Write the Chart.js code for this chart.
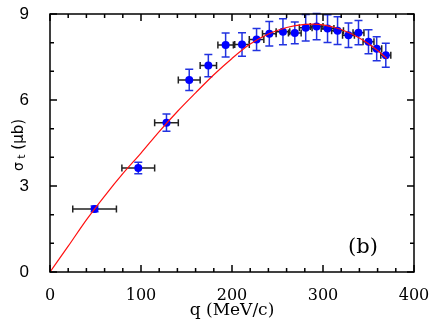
<!DOCTYPE html>
<html>
<head>
<meta charset="utf-8">
<script src="https://cdn.jsdelivr.net/npm/chart.js@4/dist/chart.umd.min.js"></script>
<style>
  body { margin: 0; background: #fff; }
  #wrap { width: 436px; height: 327px; }
</style>
</head>
<body>
<div id="wrap"><canvas id="grafico"></canvas></div>
<script>
// pontos medidos
const qVals = [49, 97, 128, 153, 174, 193, 211, 227, 241, 256, 269, 281, 293, 305, 316, 328, 339, 350, 359, 369];
const sigmaVals = [2.2, 3.63, 5.21, 6.70, 7.20, 7.92, 7.94, 8.11, 8.31, 8.38, 8.34, 8.52, 8.56, 8.49, 8.42, 8.26, 8.35, 8.03, 7.79, 7.56];
const qErr = [24, 18, 13, 12, 9, 8.5, 8, 8, 7.5, 7.5, 7, 7, 7, 7, 6.5, 6.5, 6, 6, 5.5, 5.5];
const sigmaErr = [0.1, 0.2, 0.3, 0.37, 0.39, 0.42, 0.41, 0.38, 0.43, 0.45, 0.38, 0.46, 0.46, 0.48, 0.48, 0.43, 0.42, 0.42, 0.42, 0.42];

// curva teorica (vermelha)
const fitQ = [0, 20, 40, 60, 80, 100, 120, 140, 160, 180, 200, 220, 240, 260, 280, 290, 300, 320, 340, 360, 370];
const fitSigma = [0, 0.9, 1.82, 2.65, 3.43, 4.15, 4.9, 5.6, 6.25, 6.88, 7.45, 7.95, 8.3, 8.53, 8.64, 8.65, 8.62, 8.46, 8.16, 7.73, 7.45];

// eixos
const xTicks = [0, 100, 200, 300, 400];
const yTicks = [0, 3, 6, 9];
const panelLabel = '(b)';

// barras de erro, desenhadas antes dos pontos
const errorBars = {
  id: 'errorBars',
  beforeDatasetsDraw(chart) {
    const { ctx, scales: { x, y } } = chart;
    ctx.save();
    ctx.lineWidth = 1.5;
    qVals.forEach((q, i) => {
      const px = x.getPixelForValue(q);
      const py = y.getPixelForValue(sigmaVals[i]);
      const x0 = x.getPixelForValue(q - qErr[i]);
      const x1 = x.getPixelForValue(q + qErr[i]);
      ctx.strokeStyle = '#222';
      ctx.beginPath();
      ctx.moveTo(x0, py); ctx.lineTo(x1, py);
      ctx.moveTo(x0, py - 3.5); ctx.lineTo(x0, py + 3.5);
      ctx.moveTo(x1, py - 3.5); ctx.lineTo(x1, py + 3.5);
      ctx.stroke();
      const y0 = y.getPixelForValue(sigmaVals[i] - sigmaErr[i]);
      const y1 = y.getPixelForValue(sigmaVals[i] + sigmaErr[i]);
      ctx.strokeStyle = '#2233e0';
      ctx.beginPath();
      ctx.moveTo(px, y0); ctx.lineTo(px, y1);
      ctx.moveTo(px - 4, y0); ctx.lineTo(px + 4, y0);
      ctx.moveTo(px - 4, y1); ctx.lineTo(px + 4, y1);
      ctx.stroke();
    });
    ctx.restore();
  }
};

// moldura com marcas para dentro e textos extras
const frame = {
  id: 'frame',
  afterDraw(chart) {
    const { ctx, chartArea: a, scales: { x, y } } = chart;
    ctx.save();
    ctx.strokeStyle = '#000';
    ctx.lineWidth = 1.5;
    ctx.strokeRect(a.left, a.top, a.right - a.left, a.bottom - a.top);
    ctx.beginPath();
    for (let v = 0; v <= 400; v += 20) {
      const px = x.getPixelForValue(v);
      const len = v % 100 === 0 ? 7 : 4;
      ctx.moveTo(px, a.bottom); ctx.lineTo(px, a.bottom - len);
      ctx.moveTo(px, a.top); ctx.lineTo(px, a.top + len);
    }
    for (let v = 0; v <= 9; v += 1) {
      const py = y.getPixelForValue(v);
      const len = v % 3 === 0 ? 7 : 4;
      ctx.moveTo(a.left, py); ctx.lineTo(a.left + len, py);
      ctx.moveTo(a.right, py); ctx.lineTo(a.right - len, py);
    }
    ctx.stroke();

    // rotulo do painel
    ctx.fillStyle = '#000';
    ctx.font = '21px "DejaVu Serif"';
    ctx.textAlign = 'center';
    ctx.textBaseline = 'middle';
    ctx.fillText(panelLabel, 363, 248);

    // titulo do eixo y: sigma_t (mu b)
    ctx.translate(23, 145);
    ctx.rotate(-Math.PI / 2);
    ctx.textAlign = 'left';
    ctx.textBaseline = 'alphabetic';
    ctx.font = '14px "DejaVu Sans"';
    const parts = ['σ', ' (μb)'];
    const w0 = ctx.measureText(parts[0]).width;
    ctx.font = '11px "DejaVu Sans"';
    const wt = ctx.measureText(' t').width;
    ctx.font = '15px "DejaVu Sans"';
    const w1 = ctx.measureText(parts[1]).width;
    let cx = -(w0 + wt + w1) / 2;
    ctx.font = '14px "DejaVu Sans"';
    ctx.fillText(parts[0], cx, 0);
    cx += w0;
    ctx.font = '11px "DejaVu Sans"';
    ctx.fillText(' t', cx, 2);
    cx += wt;
    ctx.font = '15px "DejaVu Sans"';
    ctx.fillText(parts[1], cx, 0);
    ctx.restore();
  }
};

new Chart(document.getElementById('grafico'), {
  type: 'scatter',
  data: {
    datasets: [
      {
        data: fitQ.map((q, i) => ({ x: q, y: fitSigma[i] })),
        showLine: true,
        borderColor: '#ff1010',
        borderWidth: 1.2,
        pointRadius: 0,
        cubicInterpolationMode: 'monotone',
        order: 0
      },
      {
        data: qVals.map((q, i) => ({ x: q, y: sigmaVals[i] })),
        backgroundColor: '#0000ff',
        borderWidth: 0,
        pointRadius: 4,
        order: 1
      }
    ]
  },
  options: {
    responsive: true,
    maintainAspectRatio: false,
    animation: false,
    layout: { padding: { left: 0, top: 14, right: 22, bottom: 0 } },
    plugins: { legend: { display: false }, tooltip: { enabled: false } },
    scales: {
      x: {
        type: 'linear',
        min: 0,
        max: 400,
        afterFit: s => { s.height = 55; s.paddingLeft = 0; s.paddingRight = 0; },
        afterBuildTicks: s => { s.ticks = xTicks.map(v => ({ value: v })); },
        grid: { display: false },
        border: { display: false },
        ticks: { color: '#000', padding: 6, maxRotation: 0, font: { family: 'DejaVu Serif', size: 16 } },
        title: {
          display: true,
          text: 'q (MeV/c)',
          color: '#000',
          padding: { top: 0, bottom: 6 },
          font: { family: 'DejaVu Serif', size: 17 }
        }
      },
      y: {
        type: 'linear',
        min: 0,
        max: 9,
        afterFit: s => { s.width = 50; s.paddingTop = 0; s.paddingBottom = 0; },
        afterBuildTicks: s => { s.ticks = yTicks.map(v => ({ value: v })); },
        grid: { display: false },
        border: { display: false },
        ticks: { color: '#000', padding: 13, font: { family: 'Liberation Sans', size: 17 } }
      }
    }
  },
  plugins: [errorBars, frame]
});
</script>
</body>
</html>
